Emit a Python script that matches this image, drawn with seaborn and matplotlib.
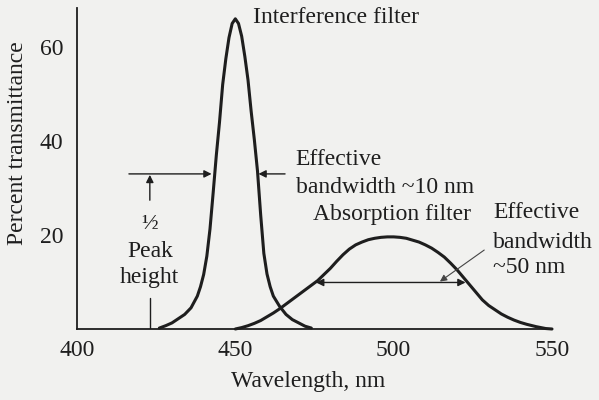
import numpy as np
import pandas as pd
import seaborn as sns
import matplotlib.pyplot as plt

# data
wl_int = [426, 428, 430, 432, 434, 436, 438, 439, 440, 441, 442, 443, 444, 445, 446, 447, 448, 449,
          450, 451, 452, 453, 454, 455, 456, 457, 458, 459, 460, 461, 462, 464, 466, 468, 470, 472, 474]
t_int = [0.2, 0.7, 1.3, 2.2, 3.1, 4.5, 7.0, 9.0, 11.6, 15.5, 21.3, 29, 37, 44, 52, 57.5, 62, 65,
         66, 65, 62.3, 58, 53, 46.3, 40.3, 33.6, 24.3, 16.1, 11.7, 9.0, 7.0, 4.8, 3.1, 2.0, 1.3, 0.6, 0.2]

wl_abs = [450, 452, 454, 456, 458, 460, 462, 464, 466, 468, 470, 472, 474, 476, 478, 480,
          482, 484, 486, 488, 490, 492, 494, 496, 498, 500, 502, 504, 506, 508, 510, 512,
          514, 516, 518, 520, 522, 524, 526, 528, 530, 532, 534, 536, 538, 540, 542, 545, 548, 550]
t_abs = [0.0, 0.3, 0.7, 1.2, 1.8, 2.6, 3.4, 4.3, 5.3, 6.3, 7.3, 8.3, 9.3, 10.3, 11.6, 12.9,
         14.4, 15.8, 17.0, 17.9, 18.5, 19.0, 19.3, 19.5, 19.6, 19.6, 19.5, 19.3, 18.9, 18.5, 17.9, 17.2,
         16.3, 15.3, 14.0, 12.6, 11.0, 9.4, 7.8, 6.2, 5.0, 4.1, 3.2, 2.5, 1.9, 1.4, 1.0, 0.5, 0.1, 0.0]

x_ticks = [400, 450, 500, 550]
y_ticks = [20, 40, 60]

sns.set_style("white")
plt.rcParams['font.family'] = ['Liberation Serif', 'DejaVu Serif']
ink = '#1e1e1e'
bg = '#f1f1ef'
fs = 17

fig = plt.figure(figsize=(5.99, 4.0), dpi=100, facecolor=bg)
ax = fig.add_axes([77/599, 71/400, 475/599, 321/400])
ax.set_facecolor(bg)

df_int = pd.DataFrame({'wl': wl_int, 't': t_int})
df_abs = pd.DataFrame({'wl': wl_abs, 't': t_abs})
sns.lineplot(data=df_int, x='wl', y='t', ax=ax, color=ink, lw=2.2, clip_on=False)
sns.lineplot(data=df_abs, x='wl', y='t', ax=ax, color=ink, lw=2.2, clip_on=False)

ax.set_xlim(400, 550)
ax.set_ylim(0, 68.3)
ax.set_xticks(x_ticks)
ax.set_yticks(y_ticks)
ax.tick_params(direction='in', length=11, width=1.2, colors=ink, labelsize=fs, pad=8)
ax.tick_params(axis='y', pad=10)
for s in ['top', 'right']:
    ax.spines[s].set_visible(False)
for s in ['left', 'bottom']:
    ax.spines[s].set_color(ink)
    ax.spines[s].set_linewidth(1.3)
ax.set_xlabel('')
ax.set_ylabel('')
fig.text(308/599, 1 - 382/400, 'Wavelength, nm', ha='center', va='center', fontsize=fs, color=ink)
fig.text(18/599, 1 - 143/400, 'Percent transmittance', ha='center', va='center',
         rotation=90, fontsize=fs, color=ink)

arr = dict(arrowstyle='-|>', lw=1.0, color=ink, mutation_scale=11, shrinkA=0, shrinkB=0)
# half peak width marks on interference filter
ax.annotate('', xy=(442.5, 33), xytext=(416.4, 33), arrowprops=arr)
ax.annotate('', xy=(457.3, 33), xytext=(465.7, 33), arrowprops=arr)
ax.annotate('', xy=(423, 32.8), xytext=(423, 27.4), arrowprops=arr)
ax.plot([423, 423], [0, 6.6], color=ink, lw=1.0)
ax.text(423, 22.5, '½', ha='center', va='center', fontsize=16, color=ink)
ax.text(423, 16.4, 'Peak', ha='center', va='center', fontsize=fs, color=ink)
ax.text(423, 10.9, 'height', ha='center', va='center', fontsize=fs, color=ink)

# half peak width on absorption filter
ax.annotate('', xy=(522.7, 9.9), xytext=(475.5, 9.9),
            arrowprops=dict(arrowstyle='<|-|>', lw=1.0, color=ink, mutation_scale=11,
                            shrinkA=0, shrinkB=0))
ax.annotate('', xy=(514.6, 10.1), xytext=(528.6, 16.8),
            arrowprops=dict(arrowstyle='-|>', lw=0.8, color='#444444', mutation_scale=10,
                            shrinkA=0, shrinkB=0))

ax.text(455.7, 66.2, 'Interference filter', ha='left', va='center', fontsize=fs, color=ink)
ax.text(469, 36.0, 'Effective', ha='left', va='center', fontsize=fs, color=ink)
ax.text(469, 30.2, 'bandwidth ~10 nm', ha='left', va='center', fontsize=fs, color=ink)
ax.text(499.6, 24.3, 'Absorption filter', ha='center', va='center', fontsize=fs, color=ink)
ax.text(531.5, 24.7, 'Effective', ha='left', va='center', fontsize=fs, color=ink, clip_on=False)
ax.text(531.5, 18.5, 'bandwidth', ha='left', va='center', fontsize=fs, color=ink, clip_on=False)
ax.text(531.5, 13.0, '~50 nm', ha='left', va='center', fontsize=fs, color=ink, clip_on=False)

fig.savefig('out.png', dpi=100, facecolor=bg)
